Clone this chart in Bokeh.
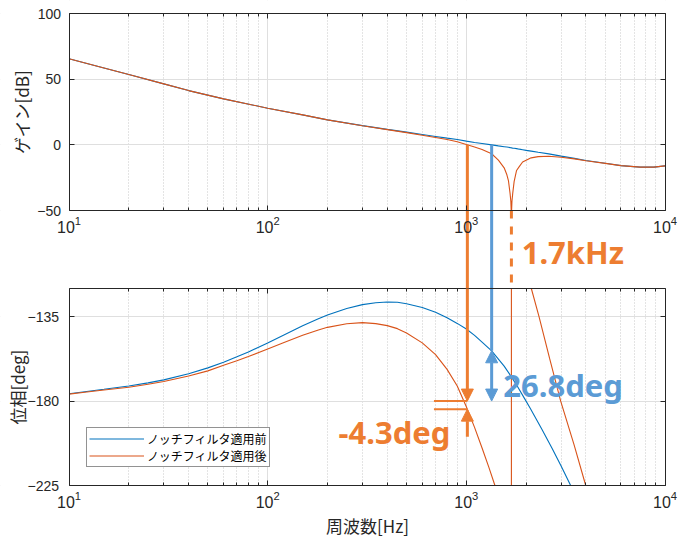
import numpy as np
from bokeh.plotting import figure
from bokeh.models import (Range1d, LinearAxis, LogAxis, FixedTicker, Grid, BoxAnnotation,
                          Arrow, NormalHead, Label, Legend, LegendItem, ColumnDataSource)
from bokeh.embed import file_html
from bokeh.resources import INLINE

NAN = float("nan")

# ---------------- data ----------------
freq_gain_hz = [10, 15, 20, 30, 40, 60, 100, 150, 200, 300, 400, 500, 600, 700, 800, 900,
                1000, 1100, 1200, 1341, 1450, 1550, 1600, 1630, 1660, 1675, 1682, 1690, 1697,
                1712, 1740, 1790, 1850, 1920, 2000, 2120, 2300, 2600, 3000, 3500, 4000, 5000,
                6000, 7500, 8800, 10000]

gain_before_db = [65.5, 58.5, 53.5, 46.4, 41.3, 35.0, 27.9, 22.8, 19.0, 14.6, 11.8, 9.7, 7.9, 6.4, 5.1, 4.0,
                  2.8, 1.8, 1.0, 0.0, -0.8, -1.4, -1.7, -1.9, -2.1, -2.2, -2.3, -2.3, -2.4,
                  -2.5, -2.6, -2.9, -3.3, -3.7, -4.2, -4.8, -5.7, -6.9, -8.6, -10.3, -11.9, -14.0,
                  -15.8, -17.0, -17.0, -16.0]

gain_after_db = [65.5, 58.5, 53.5, 46.4, 41.3, 35.0, 27.9, 22.8, 19.0, 14.5, 11.6, 9.3, 7.3, 5.6, 4.0, 2.4,
                 0.3, -1.6, -3.5, -6.8, -11.6, -17.5, -22.8, -27.5, -37.0, -43.0, -50.0, -50.0, -43.0,
                 -37.0, -28.0, -19.5, -16.4, -13.1, -11.7, -9.9, -9.0, -8.7, -9.4, -10.7, -12.1, -14.1,
                 -15.8, -17.0, -17.0, -16.0]

# phase before the notch: visible part (ends where it leaves the panel at -225)
freq_phase_before_hz = [10, 12, 15, 20, 25, 30, 40, 50, 60, 70, 80, 100, 120, 150, 180, 200,
                        250, 300, 350, 400, 450, 500, 600, 700, 800, 900, 1000, 1100, 1200, 1341,
                        1450, 1550, 1686, 1800, 1965, 2100, 2400, 2700, 3000, 3350]
phase_before_deg = [-176.1, -175.0, -173.7, -172.0, -170.3, -168.7, -165.4, -162.3, -159.3, -156.4, -153.8, -149.0, -144.9, -139.9, -136.1, -134.1,
                    -130.7, -128.6, -127.6, -127.2, -127.3, -128.1, -130.1, -132.7, -135.6, -138.6, -141.6, -145.0, -148.6, -153.2,
                    -157.6, -161.4, -167.1, -171.8, -178.7, -184.0, -195.0, -205.2, -214.6, -225.0]

# phase after the notch: visible pieces (NaN = curve outside the panel)
freq_phase_after_hz = [10, 12, 15, 20, 25, 30, 40, 50, 60, 70, 80, 100, 120, 150, 180, 200,
                       250, 300, 350, 400, 450, 500, 600, 700, 800, 900, 1000, 1100, 1200, 1300,
                       1393, 1500, 1686, 1686, 1900, 2124, 2322, 2625, 2985, 3487, 3990]
phase_after_deg = [-176.3, -175.3, -174.1, -172.6, -171.0, -169.6, -166.6, -163.9, -160.9, -158.5, -156.3, -152.2, -148.9, -144.9, -142.1, -140.7,
                   -138.8, -138.2, -138.7, -139.8, -141.4, -143.7, -149.0, -155.2, -163.1, -172.0, -183.0, -194.0, -205.0, -215.5,
                   -225.0, NAN, -225.0, -120.0, NAN, -120.0, -135.0, -157.3, -180.0, -203.3, -225.0]

series_labels = ["ノッチフィルタ適用前", "ノッチフィルタ適用後"]

# annotation values
f_cross_before = 1341      # 0 dB crossover before the notch
f_cross_after = 1012       # 0 dB crossover after the notch
f_notch = 1686             # notch frequency
gain_cross = 0.0
phase_at_cross_before = -153.2
phase_at_cross_after = -184.3
phase_ref = -180.0
notch_text = "1.7kHz"
pm_before_text = "26.8deg"
pm_after_text = "-4.3deg"

# axes ticks
x_major = [10, 100, 1000, 10000]
x_minor = [m * 10 ** k for k in range(1, 4) for m in range(2, 10)]
gain_ticks = [-50, 0, 50, 100]
phase_ticks = [-225, -180, -135]
gain_tick_labels = {-50: "\u221250"}
phase_tick_labels = {-225: "\u2212225", -180: "\u2212180", -135: "\u2212135"}

# ---------------- styles / layout ----------------
AX = "#262626"
BLUE = "#0072BD"
ORANGE = "#D95319"
ANN_O = "#ED7D31"
ANN_B = "#5B9BD5"
GRID = "#dfdfdf"
MINOR_GRID = "#c8c8c8"
TICK_FONT = "Liberation Sans"
JP_FONT = "Noto Sans CJK JP"
ANN_FONT = "Noto Sans"

CANVAS_W, CANVAS_H = 680, 540
PANEL_L, PANEL_W = 68.5, 596          # panel left edge and width (px)
TOP_PAD, PANEL_H, GAP_H = 13, 197, 78  # px
DEC_PX = PANEL_W / 3.0
G_LO, G_HI = -50, 100
P_LO, P_HI = -225, -120
G_PX = (G_HI - G_LO) / PANEL_H
P_PX = (P_HI - P_LO) / PANEL_H
BOTTOM_EDGE = TOP_PAD + 2 * PANEL_H + GAP_H

x_range = Range1d(10 ** (1 - PANEL_L / DEC_PX), 10 ** (4 + (CANVAS_W - PANEL_L - PANEL_W) / DEC_PX))
gain_range = Range1d(G_HI - (CANVAS_H - TOP_PAD) * G_PX, G_HI + TOP_PAD * G_PX)
phase_range = Range1d(P_LO - (CANVAS_H - BOTTOM_EDGE) * P_PX, P_LO + BOTTOM_EDGE * P_PX)
GAP_BOTTOM_GAIN = G_LO - GAP_H * G_PX

p = figure(width=CANVAS_W, height=CANVAS_H, x_axis_type="log",
           x_range=x_range, y_range=gain_range,
           min_border_left=0, min_border_right=0, min_border_top=0, min_border_bottom=0,
           output_backend="svg", toolbar_location=None)
p.extra_y_ranges = {"phase": phase_range}
p.outline_line_color = None
p.background_fill_color = "white"
p.border_fill_color = "white"

x_ticker = FixedTicker(ticks=x_major, minor_ticks=x_minor)
gain_ticker = FixedTicker(ticks=gain_ticks, minor_ticks=[])
phase_ticker = FixedTicker(ticks=phase_ticks, minor_ticks=[])


def style(ax, labels=True, size="14px"):
    ax.axis_line_color = AX
    ax.axis_line_width = 1
    ax.major_tick_line_color = AX
    ax.minor_tick_line_color = AX
    ax.major_tick_in = 5
    ax.major_tick_out = 0
    ax.minor_tick_in = 3
    ax.minor_tick_out = 0
    ax.major_label_text_font = TICK_FONT
    ax.major_label_text_font_size = size
    ax.major_label_text_color = AX if labels else None
    ax.axis_label_text_font = JP_FONT
    ax.axis_label_text_font_size = "17px"
    ax.axis_label_text_font_style = "normal"
    ax.axis_label_text_color = AX


# ---------------- grids + blank margins ----------------
p.xgrid[0].ticker = x_ticker
p.xgrid.grid_line_color = GRID
p.xgrid.minor_grid_line_color = MINOR_GRID
p.xgrid.minor_grid_line_dash = "1 2"
p.ygrid[0].ticker = gain_ticker
p.ygrid.grid_line_color = GRID
p.add_layout(Grid(dimension=1, y_range_name="phase", ticker=phase_ticker, grid_line_color=GRID))
for box in [BoxAnnotation(right=10), BoxAnnotation(left=10000), BoxAnnotation(bottom=G_HI),
            BoxAnnotation(top=G_LO, bottom=GAP_BOTTOM_GAIN),
            BoxAnnotation(top=P_LO, y_range_name="phase")]:
    box.fill_color = "white"
    box.fill_alpha = 1.0
    box.line_color = None
    box.level = "underlay"
    p.add_layout(box)

# ---------------- axes (all at fixed locations) ----------------
xb = p.xaxis[0]
xb.y_range_name = "phase"
xb.fixed_location = P_LO
xb.bounds = (10, 10000)
xb.ticker = x_ticker
xb.axis_label = "周波数[Hz]"
style(xb, size="16px")
xb.major_label_standoff = 5
xb.axis_label_standoff = 2

xg = LogAxis(ticker=x_ticker, fixed_location=G_LO, bounds=(10, 10000))
style(xg, size="16px")
xg.major_label_standoff = 5
p.add_layout(xg, "below")

xt1 = LogAxis(ticker=x_ticker, fixed_location=G_HI, bounds=(10, 10000))
style(xt1, labels=False)
p.add_layout(xt1, "above")
xt2 = LogAxis(ticker=x_ticker, fixed_location=P_HI, y_range_name="phase", bounds=(10, 10000))
style(xt2, labels=False)
p.add_layout(xt2, "above")

yg = p.yaxis[0]
yg.ticker = gain_ticker
yg.bounds = (G_LO, G_HI)
yg.fixed_location = 10
yg.axis_label = "ゲイン[dB]"
yg.major_label_overrides = gain_tick_labels
style(yg)
yg.major_label_standoff = 8
yg.axis_label_standoff = 1

yp = LinearAxis(y_range_name="phase", ticker=phase_ticker, bounds=(P_LO, P_HI), fixed_location=10,
                axis_label="位相[deg]", major_label_overrides=phase_tick_labels)
style(yp)
yp.major_label_standoff = 10
yp.axis_label_standoff = -5
p.add_layout(yp, "left")

yr1 = LinearAxis(ticker=gain_ticker, bounds=(G_LO, G_HI), fixed_location=10000)
style(yr1, labels=False)
p.add_layout(yr1, "right")
yr2 = LinearAxis(y_range_name="phase", ticker=phase_ticker, bounds=(P_LO, P_HI), fixed_location=10000)
style(yr2, labels=False)
p.add_layout(yr2, "right")

# ---------------- data lines ----------------
src_g = ColumnDataSource(dict(f=np.array(freq_gain_hz, dtype=float),
                              gb=np.array(gain_before_db, dtype=float),
                              ga=np.array(gain_after_db, dtype=float)))
src_pb = ColumnDataSource(dict(f=np.array(freq_phase_before_hz, dtype=float),
                               p=np.array(phase_before_deg, dtype=float)))
src_pa = ColumnDataSource(dict(f=np.array(freq_phase_after_hz, dtype=float),
                               p=np.array(phase_after_deg, dtype=float)))
r_gb = p.line("f", "gb", source=src_g, line_color=BLUE, line_width=1.1)
r_pb = p.line("f", "p", source=src_pb, line_color=BLUE, line_width=1.1, y_range_name="phase")
r_ga = p.line("f", "ga", source=src_g, line_color=ORANGE, line_width=1.1)
r_pa = p.line("f", "p", source=src_pa, line_color=ORANGE, line_width=1.1, y_range_name="phase")

# ---------------- annotations ----------------
def head(c):
    return NormalHead(size=12, fill_color=c, line_color=c, line_width=1)

# orange: crossover after notch
p.segment(x0=[f_cross_after], y0=[gain_cross], x1=[f_cross_after], y1=[GAP_BOTTOM_GAIN],
          line_color=ANN_O, line_width=3)
p.add_layout(Arrow(end=head(ANN_O), x_start=f_cross_after, y_start=P_HI, x_end=f_cross_after,
                   y_end=phase_ref, y_range_name="phase", line_color=ANN_O, line_width=3))
p.add_layout(Arrow(end=head(ANN_O), x_start=f_cross_after, y_start=-199, x_end=f_cross_after,
                   y_end=phase_at_cross_after, y_range_name="phase", line_color=ANN_O, line_width=3))
p.segment(x0=[687, 687], y0=[phase_ref, phase_at_cross_after], x1=[f_cross_after, f_cross_after],
          y1=[phase_ref, phase_at_cross_after], y_range_name="phase", line_color=ANN_O, line_width=2)

# blue: crossover before notch
p.segment(x0=[f_cross_before], y0=[gain_cross], x1=[f_cross_before], y1=[GAP_BOTTOM_GAIN],
          line_color=ANN_B, line_width=3)
p.segment(x0=[f_cross_before], y0=[P_HI], x1=[f_cross_before], y1=[phase_at_cross_before],
          y_range_name="phase", line_color=ANN_B, line_width=3)
p.add_layout(Arrow(start=head(ANN_B), end=head(ANN_B), x_start=f_cross_before, y_start=phase_at_cross_before,
                   x_end=f_cross_before, y_end=phase_ref, y_range_name="phase", line_color=ANN_B, line_width=3))

# dashed notch marker
p.segment(x0=[f_notch], y0=[G_LO], x1=[f_notch], y1=[GAP_BOTTOM_GAIN],
          line_color=ANN_O, line_width=3, line_dash="8 8")

p.add_layout(Label(x=1899, y=-81.7, text=notch_text, text_font=ANN_FONT, text_font_size="31px",
                   text_font_style="bold", text_color=ANN_O, text_baseline="alphabetic"))
p.add_layout(Label(x=1535, y=-171.5, y_range_name="phase", text=pm_before_text, text_font=ANN_FONT,
                   text_font_size="31px", text_font_style="bold", text_color=ANN_B,
                   text_baseline="alphabetic"))
p.add_layout(Label(x=227.5, y=-196.5, y_range_name="phase", text=pm_after_text, text_font=ANN_FONT,
                   text_font_size="31px", text_font_style="bold", text_color=ANN_O,
                   text_baseline="alphabetic"))

# legend (offset from the frame's bottom-left corner)
legend = Legend(items=[LegendItem(label=series_labels[0], renderers=[r_gb]),
                       LegendItem(label=series_labels[1], renderers=[r_ga])],
                location=(86, CANVAS_H - 467), label_text_font=JP_FONT, label_text_font_size="12px",
                label_text_color="#000000", glyph_width=55, glyph_height=15, label_height=15,
                spacing=0, padding=2, margin=0, label_standoff=3,
                border_line_color=AX, border_line_width=1, background_fill_color="white",
                background_fill_alpha=1.0)
p.add_layout(legend)

open("out.html", "w").write(file_html(p, INLINE, "Bode"))
